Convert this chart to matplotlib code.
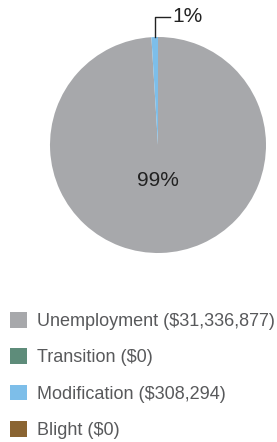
import matplotlib; matplotlib.use("Agg")
import matplotlib.pyplot as plt
import numpy as np

categories = ['Unemployment', 'Transition', 'Modification', 'Blight']
amounts = [31336877, 0, 308294, 0]
colors = ['#A7A8AB', '#5E8C7A', '#7DBEE9', '#8A6432']

plt.rcParams['font.family'] = ['Liberation Sans', 'DejaVu Sans']

W, H = 277, 442
fig = plt.figure(figsize=(W / 100, H / 100), dpi=100)

# pie area in pixels: centre (158,145), radius 108
cx, cy, r = 158, 145, 108
ax = fig.add_axes([(cx - r) / W, (H - cy - r) / H, 2 * r / W, 2 * r / H])
wedges, _ = ax.pie(amounts, colors=colors, startangle=90, counterclock=False,
                   radius=1, wedgeprops=dict(linewidth=0))
ax.set_xlim(-1, 1)
ax.set_ylim(-1, 1)
ax.axis('off')

total = sum(amounts)
pct = [a / total * 100 for a in amounts]

# big slice label in the middle-lower area
ax.text(0, -0.33, '%d%%' % round(pct[0]), ha='center', va='center',
        fontsize=15, color='#222222')

# small slice: leader line going up then right
w = wedges[2]
ang = np.deg2rad((w.theta1 + w.theta2) / 2)
x0, y0 = np.cos(ang), np.sin(ang)
ytop = 1 + 20 / r
ax.plot([x0, x0, x0 + 15 / r], [y0, ytop, ytop], color='#222222', lw=1,
        clip_on=False)
ax.text(x0 + 18 / r, ytop, '%d%%' % max(1, round(pct[2])), ha='left',
        va='center', fontsize=15, color='#222222')

labels = ['%s ($%s)' % (c, format(a, ',')) for c, a in zip(categories, amounts)]
leg = fig.legend(wedges, labels, loc='upper left',
                 bbox_to_anchor=(10 / W, 1 - 312 / H), frameon=False,
                 fontsize=13, handlelength=0.95, handleheight=0.95,
                 handletextpad=0.55, labelspacing=1.02, borderpad=0,
                 borderaxespad=0)
for t in leg.get_texts():
    t.set_color('#58595B')

fig.savefig('out.png', dpi=100)
